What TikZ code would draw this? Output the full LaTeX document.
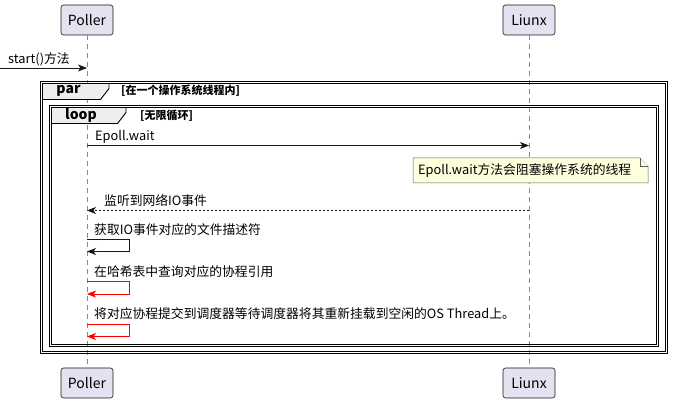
\documentclass[tikz,border=0pt]{standalone}
\usepackage{fontspec}
\setmainfont{Noto Sans CJK SC}
\usetikzlibrary{arrows.meta}
\definecolor{partfill}{HTML}{E2E2F0}
\definecolor{partdraw}{HTML}{181818}
\definecolor{notefill}{HTML}{FEFFDD}
\definecolor{tabfill}{HTML}{EEEEEE}
\definecolor{lifegray}{HTML}{888888}
\tikzset{
  participant/.style={draw=partdraw, fill=partfill, rounded corners=2.5pt, line width=0.6pt, minimum width=52pt, minimum height=30pt, inner sep=0pt, font=\fontsize{14}{16}\selectfont},
  lifeline/.style={draw=lifegray, line width=0.6pt, dash pattern=on 5pt off 4pt},
  msg/.style={draw=partdraw, line width=0.7pt, -{Stealth[length=9pt,width=7pt,inset=2.5pt]}},
  msgtext/.style={anchor=west, inner sep=0pt, font=\fontsize{12.8}{14}\selectfont},
  grpframe/.style={draw=black, line width=0.8pt},
  grptab/.style={draw=black, fill=tabfill, line width=0.9pt},
  tablabel/.style={inner sep=0pt, font=\bfseries\fontsize{14}{16}\selectfont},
  condlabel/.style={anchor=west, inner sep=0pt, font=\bfseries\fontsize{11}{12}\selectfont},
  notebox/.style={draw=partdraw!70, fill=notefill, line width=0.5pt}
}
\begin{document}
\begin{tikzpicture}[x=1pt,y=-1pt]
\useasboundingbox (0,0) rectangle (673,403);
% participants
\node[participant] (pt) at (87,20) {Poller};
\node[participant] (lt) at (529,20) {Liunx};
\node[participant] (pb) at (87,383) {Poller};
\node[participant] (lb) at (529,383) {Liunx};
\draw[lifeline] (pt.south) -- (pb.north);
\draw[lifeline] (lt.south) -- (lb.north);
% start message
\coordinate (s0) at (0,68);
\coordinate (s1) at (87,68);
\draw[msg] (s0) -- (s1);
\node[msgtext] (stxt) at (8,59) {start()方法};
% par frame
\draw[grpframe] (40.5,81.5) rectangle (667.5,353);
\draw[grpframe] (42.5,83.5) rectangle (665.5,351);
\draw[grptab] (42.5,83.5) -- (109,83.5) -- (109,88.5) -- (100.5,99.5) -- (42.5,99.5) -- cycle;
\node[tablabel] (partxt) at (68.5,91) {par};
\node[condlabel] (parcond) at (121,91) {[在一个操作系统线程内]};
% loop frame
\draw[grpframe] (49.5,105.5) rectangle (658.5,346);
\draw[grpframe] (51.5,107.5) rectangle (656.5,344);
\draw[grptab] (51.5,107.5) -- (126,107.5) -- (126,112.5) -- (117.5,123.5) -- (51.5,123.5) -- cycle;
\node[tablabel] (looptxt) at (81,115) {loop};
\node[condlabel] (loopcond) at (140,116) {[无限循环]};
% Epoll.wait
\coordinate (e0) at (87,145.5);
\coordinate (e1) at (529,145.5);
\draw[msg] (e0) -- (e1);
\node[msgtext] (etxt) at (95,136.5) {Epoll.wait};
% note
\draw[notebox] (413,158) -- (640,158) -- (648,166) -- (648,183) -- (413,183) -- cycle;
\draw[notebox] (640,158) -- (640,166) -- (648,166);
\node[msgtext] (note) at (418,171) {Epoll.wait方法会阻塞操作系统的线程};
% return
\coordinate (r0) at (529,210.5);
\coordinate (r1) at (87,210.5);
\draw[msg, dash pattern=on 2pt off 2pt] (r0) -- (r1);
\node[msgtext] (rtxt) at (104,200.5) {监听到网络IO事件};
% self 1
\coordinate (a0) at (87,239);
\coordinate (a1) at (129.5,239);
\coordinate (a2) at (129.5,251.5);
\coordinate (a3) at (87,251.5);
\draw[msg] (a0) -- (a1) -- (a2) -- (a3);
\node[msgtext] (atxt) at (94,230) {获取IO事件对应的文件描述符};
% self 2 (red)
\coordinate (b0) at (87,281);
\coordinate (b1) at (129.5,281);
\coordinate (b2) at (129.5,294);
\coordinate (b3) at (87,294);
\draw[msg, draw=red] (b0) -- (b1) -- (b2) -- (b3);
\node[msgtext] (btxt) at (94,271.5) {在哈希表中查询对应的协程引用};
% self 3 (red)
\coordinate (c0) at (87,324);
\coordinate (c1) at (129.5,324);
\coordinate (c2) at (129.5,336.5);
\coordinate (c3) at (87,336.5);
\draw[msg, draw=red] (c0) -- (c1) -- (c2) -- (c3);
\node[msgtext] (ctxt) at (94,314) {将对应协程提交到调度器等待调度器将其重新挂载到空闲的OS Thread上。};
\end{tikzpicture}
\end{document}
